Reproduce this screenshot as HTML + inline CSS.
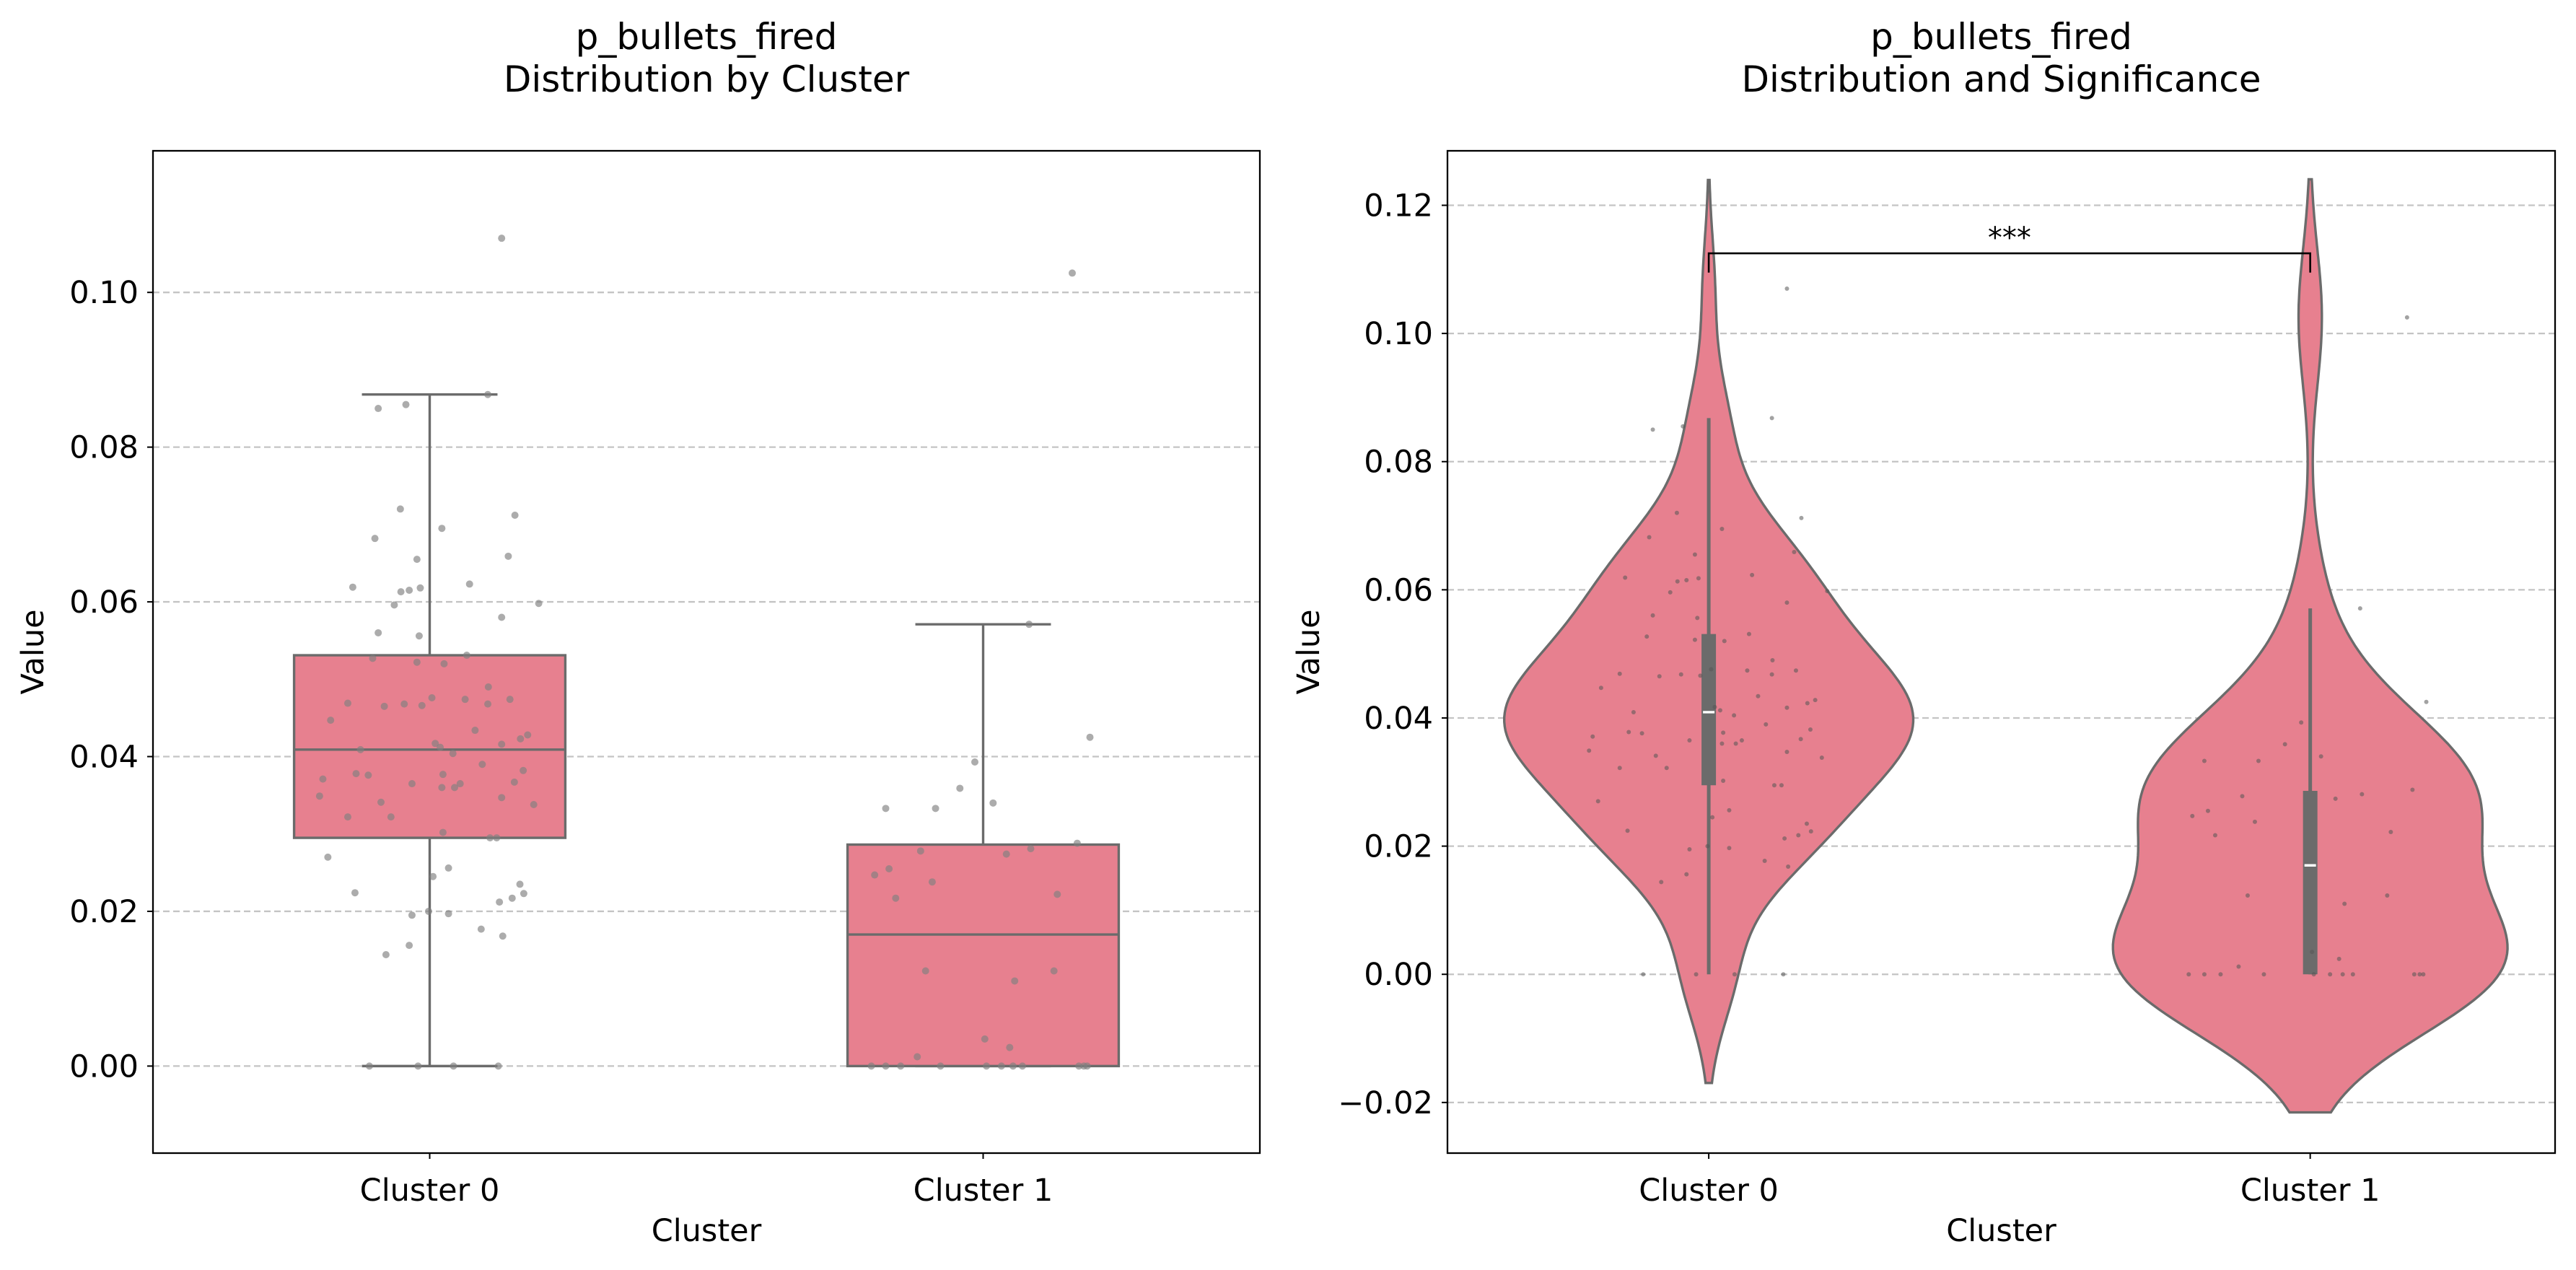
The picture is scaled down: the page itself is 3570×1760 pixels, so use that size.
<!DOCTYPE html>
<html><head><meta charset="utf-8"><style>
html,body{margin:0;padding:0;background:#fff}
svg{display:block;font-family:"DejaVu Sans","Liberation Sans",sans-serif}
</style></head><body>
<svg id="c" width="3570" height="1760" xmlns="http://www.w3.org/2000/svg"></svg>
<script>
const categories=["Cluster 0","Cluster 1"];
const cluster0Values=[0.107,0.0868,0.085,0.0855,0.072,0.0712,0.0695,0.0682,0.0659,0.0655,0.0623,0.0619,0.0618,0.0615,0.0613,0.0598,0.0596,0.058,0.056,0.0556,0.0531,0.0527,0.0522,0.052,0.049,0.0476,0.0474,0.0474,0.0469,0.0468,0.0468,0.0466,0.0465,0.0447,0.0434,0.0428,0.0423,0.0417,0.0416,0.0412,0.0409,0.0404,0.039,0.0382,0.0378,0.0377,0.0376,0.0371,0.0367,0.0365,0.0365,0.036,0.036,0.0349,0.0347,0.0341,0.0338,0.0322,0.0322,0.0302,0.0295,0.0295,0.027,0.0256,0.0245,0.0235,0.0224,0.0223,0.0217,0.0212,0.02,0.0197,0.0195,0.0177,0.0168,0.0156,0.0144,0,0,0,0];
const cluster0Jitter=[.13,.105,-.093,-.043,-.053,.154,.022,-.099,.142,-.023,.072,-.139,-.017,-.037,-.052,.197,-.064,.13,-.093,-.019,.067,-.103,-.023,.026,.106,.004,.064,.145,-.148,-.046,.105,-.014,-.082,-.179,.082,.177,.164,.01,.13,.019,-.125,.042,.095,.169,-.133,.024,-.111,-.193,.153,-.032,.055,.022,.045,-.199,.13,-.088,.188,-.148,-.07,.024,.109,.121,-.184,.034,.006,.163,-.135,.17,.149,.126,-.002,.034,-.032,.093,.132,-.037,-.079,-.109,-.021,.043,.124];
const cluster1Values=[0.1025,0.0571,0.0425,0.0393,0.034,0.0333,0.0333,0.0359,0.0288,0.0281,0.0278,0.0274,0.0255,0.0247,0.0238,0.0222,0.0217,0.0123,0.0123,0.011,0.0035,0.0024,0.0012,0,0,0,0,0,0,0,0,0,0,0];
const cluster1Jitter=[.161,.083,.193,-.015,.018,-.176,-.086,-.042,.17,.086,-.113,.042,-.17,-.196,-.092,.134,-.158,-.104,.128,.057,.003,.048,-.119,-.202,-.176,-.149,-.077,.006,.033,.054,.071,.173,.182,.188];
const leftTicks=[0,0.02,0.04,0.06,0.08,0.10];
const rightTicks=[-0.02,0,0.02,0.04,0.06,0.08,0.10,0.12];
const groups=[cluster0Values,cluster1Values];
const jitters=[cluster0Jitter,cluster1Jitter];

const svg=document.getElementById('c');
const NS="http://www.w3.org/2000/svg";
function mk(tag,attrs,parent){const e=document.createElementNS(NS,tag);for(const k in attrs)e.setAttribute(k,attrs[k]);(parent||svg).appendChild(e);return e;}
const FILL="#e7808f",EDGE="#6b6b6b";
function quant(arr,q){const s=[...arr].sort((a,b)=>a-b);const p=(s.length-1)*q;const lo=Math.floor(p),hi=Math.ceil(p);return s[lo]+(s[hi]-s[lo])*(p-lo);}
function stats(arr){const q1=quant(arr,.25),q3=quant(arr,.75),med=quant(arr,.5),iqr=q3-q1;const inr=arr.filter(v=>v>=q1-1.5*iqr&&v<=q3+1.5*iqr);return{q1,q3,med,lo:Math.min(...inr),hi:Math.max(...inr)};}

function panel(cfg){
  const {x0,x1,y0,y1,dmin,dmax,ticks,name,xa,xb}=cfg;
  const g=mk('g',{});
  const Y=v=>y1-(v-dmin)/(dmax-dmin)*(y1-y0);
  const X=i=>x0+(i-xa)/(xb-xa)*(x1-x0);
  const sp=X(1)-X(0);
  const grid=mk('g',{},g);
  ticks.forEach(t=>{
    mk('line',{x1:x0,x2:x1,y1:Y(t),y2:Y(t),stroke:'#c4c4c4','stroke-width':2.3,'stroke-dasharray':'9,5'},grid);
    mk('line',{x1:x0-8,x2:x0,y1:Y(t),y2:Y(t),stroke:'#000','stroke-width':2},g);
    const tx=mk('text',{x:x0-20,y:Y(t)+15,'text-anchor':'end','font-size':43},g);
    
    
    tx.textContent=(t<0?'\u2212':'')+Math.abs(t).toFixed(2);
  });
  return {g,Y,X,sp};
}
function frame(cfg,p){
  const {x0,x1,y0,y1}=cfg;
  mk('rect',{x:x0,y:y0,width:x1-x0,height:y1-y0,fill:'none',stroke:'#000','stroke-width':2.3,},p.g);
  categories.forEach((c,i)=>{
    mk('line',{x1:p.X(i),x2:p.X(i),y1:y1,y2:y1+8,stroke:'#000','stroke-width':2},p.g);
    const t=mk('text',{x:p.X(i),y:y1+66,'text-anchor':'middle','font-size':43},p.g);
    
    
    t.textContent=c;
  });
  const xl=mk('text',{x:(x0+x1)/2,y:y1+122,'text-anchor':'middle','font-size':43},p.g);
  xl.textContent='Cluster';
  const yl=mk('text',{x:0,y:0,'text-anchor':'middle','font-size':43,transform:`translate(${x0-cfg.ylOff},${(y0+y1)/2}) rotate(-90)`},p.g);
  yl.textContent='Value';
  const tt=mk('text',{x:(x0+x1)/2,y:68,'text-anchor':'middle','font-size':50},p.g);
  
  mk('tspan',{x:(x0+x1)/2,dy:0},tt).textContent='p_bullets_fired';
  mk('tspan',{x:(x0+x1)/2,dy:59},tt).textContent=cfg.title2;
}

// LEFT box plot
const L={x0:212,x1:1746,y0:209,y1:1598,dmin:-0.01125,dmax:0.1183,xa:-0.5,xb:1.5,ticks:leftTicks,name:'box-plot-panel',title2:'Distribution by Cluster',ylOff:152};
const pl=panel(L);
groups.forEach((arr,i)=>{
  const s=stats(arr),cx=pl.X(i),hw=pl.sp*0.245;
  const bg=mk('g',{},pl.g);
  mk('line',{x1:cx,x2:cx,y1:pl.Y(s.q3),y2:pl.Y(s.hi),stroke:EDGE,'stroke-width':3.4},bg);
  mk('line',{x1:cx,x2:cx,y1:pl.Y(s.q1),y2:pl.Y(s.lo),stroke:EDGE,'stroke-width':3.4},bg);
  mk('line',{x1:cx-hw/2,x2:cx+hw/2,y1:pl.Y(s.hi),y2:pl.Y(s.hi),stroke:EDGE,'stroke-width':3.4},bg);
  mk('line',{x1:cx-hw/2,x2:cx+hw/2,y1:pl.Y(s.lo),y2:pl.Y(s.lo),stroke:EDGE,'stroke-width':3.4},bg);
  mk('rect',{x:cx-hw,y:pl.Y(s.q3),width:2*hw,height:pl.Y(s.q1)-pl.Y(s.q3),fill:FILL,stroke:EDGE,'stroke-width':3.4},bg);
  mk('line',{x1:cx-hw,x2:cx+hw,y1:pl.Y(s.med),y2:pl.Y(s.med),stroke:EDGE,'stroke-width':3.4},bg);
  arr.forEach((v,k)=>{
    const c=mk('circle',{cx:cx+jitters[i][k]*pl.sp,cy:pl.Y(v),r:5,fill:'#808080','fill-opacity':0.65},pl.g);
    
    
  });
});
frame(L,pl);

// RIGHT violin
const R={x0:2006,x1:3541,y0:209,y1:1598,dmin:-0.0279,dmax:0.1285,xa:-0.4344,xb:1.4071,ticks:rightTicks,name:'violin-panel',title2:'Distribution and Significance',ylOff:178};
const pr=panel(R);
groups.forEach((arr,i)=>{
  const n=arr.length,mean=arr.reduce((a,b)=>a+b,0)/n;
  const sd=Math.sqrt(arr.reduce((a,b)=>a+(b-mean)**2,0)/(n-1));
  const bw=sd*Math.pow(n,-0.2);
  const lo=Math.min(...arr)-2*bw,hi=Math.max(...arr)+2*bw;
  const pts=[];const N=200;
  for(let k=0;k<=N;k++){const y=lo+(hi-lo)*k/N;let d=0;arr.forEach(v=>{d+=Math.exp(-0.5*((y-v)/bw)**2);});pts.push([y,d]);}
  const mx=Math.max(...pts.map(p=>p[1]));
  const cx=pr.X(i),W=pr.sp*(i===0?0.34:0.328);
  let dstr='';
  pts.forEach((p,k)=>{dstr+=(k?'L':'M')+(cx+p[1]/mx*W).toFixed(1)+','+pr.Y(p[0]).toFixed(1);});
  for(let k=N;k>=0;k--){const p=pts[k];dstr+='L'+(cx-p[1]/mx*W).toFixed(1)+','+pr.Y(p[0]).toFixed(1);}
  dstr+='Z';
  const vg=mk('g',{},pr.g);
  mk('path',{d:dstr,fill:FILL,stroke:EDGE,'stroke-width':3.4},vg);
  const s=stats(arr);
  mk('line',{x1:cx,x2:cx,y1:pr.Y(s.lo),y2:pr.Y(s.hi),stroke:EDGE,'stroke-width':5},vg);
  mk('rect',{x:cx-10,y:pr.Y(s.q3),width:20,height:pr.Y(s.q1)-pr.Y(s.q3),fill:EDGE},vg);
  mk('line',{x1:cx-8,x2:cx+8,y1:pr.Y(s.med),y2:pr.Y(s.med),stroke:'#fff','stroke-width':3.4},vg);
  arr.forEach((v,k)=>{
    const c=mk('circle',{cx:cx+jitters[i][k]*pr.sp,cy:pr.Y(v),r:3,fill:'#555','fill-opacity':0.55},pr.g);
    
    
  });
});
// significance bracket
const sb=mk('g',{},pr.g);
const by=0.1125,bt=0.1095;
mk('path',{d:`M${pr.X(0)},${pr.Y(bt)}L${pr.X(0)},${pr.Y(by)}L${pr.X(1)},${pr.Y(by)}L${pr.X(1)},${pr.Y(bt)}`,fill:'none',stroke:'#000','stroke-width':2.6},sb);
const st=mk('text',{x:(pr.X(0)+pr.X(1))/2,y:pr.Y(by)-8,'text-anchor':'middle','font-size':40},sb);
st.textContent='***';
frame(R,pr);
</script>
</body></html>
